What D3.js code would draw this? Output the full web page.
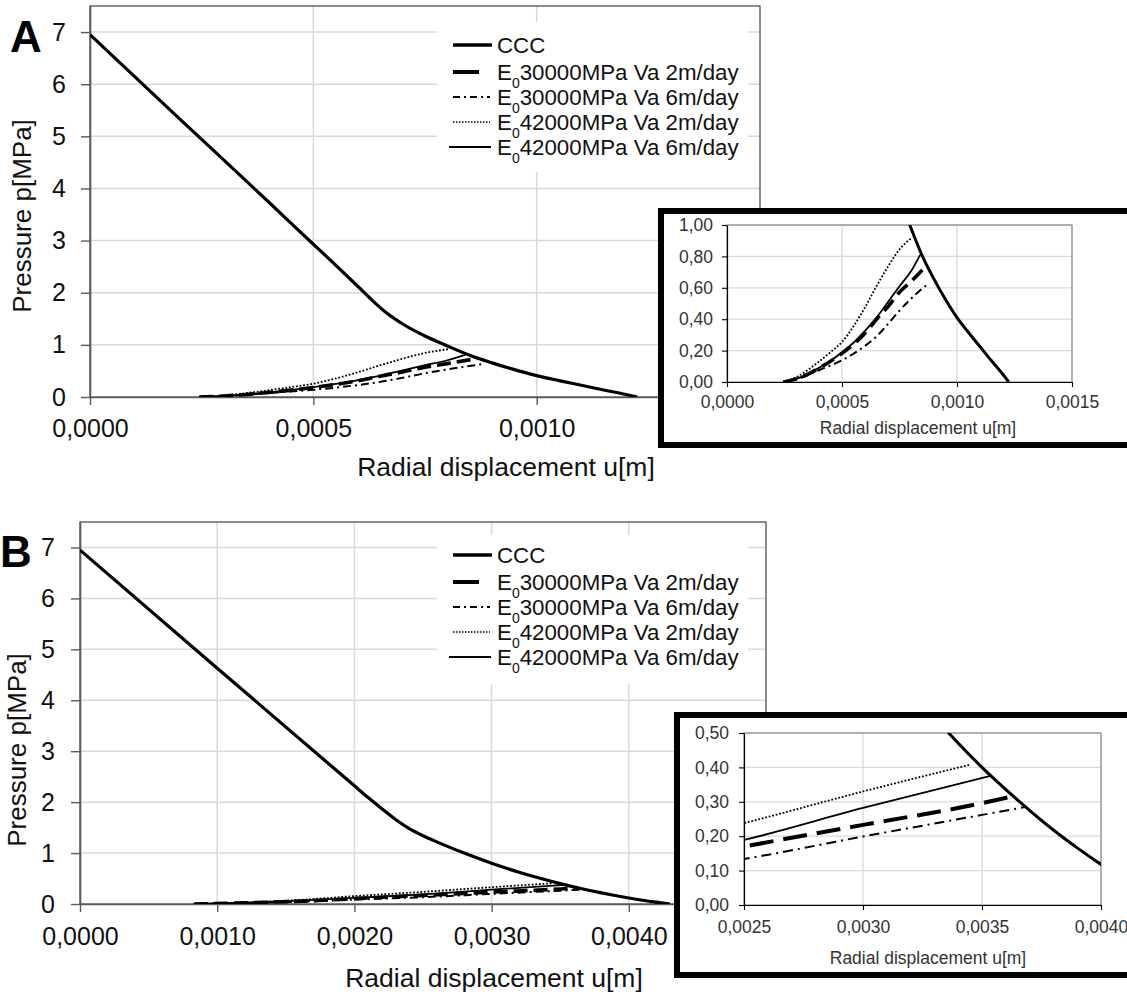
<!DOCTYPE html>
<html><head><meta charset="utf-8">
<script src="https://cdn.jsdelivr.net/npm/d3@7"></script>
<style>
html,body{margin:0;padding:0;background:#fff;}
svg{display:block;font-family:"Liberation Sans",Arial,sans-serif;}
</style></head><body>
<svg id="chart" width="1127" height="996"></svg>
<script>
// ---------------- DATA ----------------
const seriesNames = ["CCC", "30000MPa Va 2m/day", "30000MPa Va 6m/day", "42000MPa Va 2m/day", "42000MPa Va 6m/day"];
const mainYTicks = [0, 1, 2, 3, 4, 5, 6, 7];
const xTicksA = [0, 0.0005, 0.0010, 0.0015];
const xLabelsA = [0, 0.0005, 0.0010];            // 0,0015 is hidden behind the inset
const xTicksB = [0, 0.0010, 0.0020, 0.0030, 0.0040, 0.0050];
const xLabelsB = [0, 0.0010, 0.0020, 0.0030, 0.0040]; // 0,0050 is hidden behind the inset
const insetXTicksA = [0, 0.0005, 0.0010, 0.0015];
const insetYTicksA = [0, 0.2, 0.4, 0.6, 0.8, 1.0];
const insetXTicksB = [0.0025, 0.0030, 0.0035, 0.0040];
const insetYTicksB = [0, 0.1, 0.2, 0.3, 0.4, 0.5];

// Panel A  [u (m), p (MPa)]
const cccA = [[0,6.95],[0.0002,5.34],[0.0004,3.74],[0.0005,2.93],[0.00055,2.53],[0.0006,2.12],[0.00063,1.87],[0.00066,1.64],[0.0007,1.40],[0.00075,1.17],[0.0008,0.98],[0.00085,0.80],[0.0009,0.655],[0.00095,0.525],[0.001,0.41],[0.00105,0.315],[0.0011,0.225],[0.00115,0.135],[0.0012,0.048],[0.001225,0]];
const e30k2A = [[0.000245,0],[0.0003,0.02],[0.00035,0.048],[0.0004,0.088],[0.00045,0.132],[0.0005,0.182],[0.00055,0.24],[0.0006,0.31],[0.00065,0.40],[0.0007,0.48],[0.00075,0.572],[0.0008,0.64],[0.00087,0.745]];
const e30k6A = [[0.000245,0],[0.0003,0.015],[0.00035,0.042],[0.0004,0.075],[0.00045,0.105],[0.0005,0.138],[0.00055,0.18],[0.0006,0.23],[0.00065,0.29],[0.0007,0.37],[0.00075,0.455],[0.0008,0.53],[0.000878,0.63]];
const e42k2A = [[0.000245,0],[0.0003,0.03],[0.00035,0.075],[0.0004,0.13],[0.00045,0.19],[0.0005,0.255],[0.00055,0.355],[0.0006,0.475],[0.00065,0.61],[0.0007,0.735],[0.00075,0.845],[0.000805,0.92]];
const e42k6A = [[0.000245,0],[0.0003,0.02],[0.00035,0.05],[0.0004,0.09],[0.00045,0.135],[0.0005,0.19],[0.00055,0.25],[0.0006,0.325],[0.00065,0.41],[0.0007,0.51],[0.00075,0.61],[0.0008,0.705],[0.00084,0.81]];

// Panel B
const cccB = [[0,6.95],[0.001,4.63],[0.002,2.32],[0.0021,2.09],[0.0022,1.87],[0.0023,1.66],[0.0024,1.48],[0.0025,1.34],[0.0026,1.22],[0.0028,1.0],[0.003,0.80],[0.0032,0.625],[0.00336,0.5],[0.0035,0.40],[0.00365,0.305],[0.0038,0.218],[0.0039,0.166],[0.004,0.118],[0.0041,0.074],[0.0042,0.036],[0.0043,0]];
const e30k2B = [[0.00083,0],[0.0012,0.022],[0.0016,0.055],[0.002,0.105],[0.0025,0.17],[0.003,0.233],[0.0035,0.296],[0.00363,0.316]];
const e30k6B = [[0.00083,0],[0.0012,0.018],[0.0016,0.045],[0.002,0.085],[0.0025,0.134],[0.003,0.199],[0.0035,0.262],[0.00369,0.286]];
const e42k2B = [[0.00083,0],[0.0012,0.03],[0.0016,0.08],[0.002,0.155],[0.0025,0.238],[0.003,0.33],[0.00345,0.408]];
const e42k6B = [[0.00083,0],[0.0012,0.025],[0.0016,0.065],[0.002,0.12],[0.0025,0.189],[0.003,0.282],[0.00354,0.376]];

// ---------------- DRAW ----------------
const svg = d3.select("#chart");
const FONT = '"Liberation Sans", Arial, sans-serif';
const comma = f => (v => d3.format(f)(v).replace(".", ","));

const mainStyles = [
  {w: 3.2, dash: null},
  {w: 3.6, dash: "14,6"},
  {w: 2.0, dash: "8,4,2,4"},
  {w: 1.8, dash: "1.8,1.8"},
  {w: 1.8, dash: null}
];
const legendStyles = [
  {w: 3.4, dash: null, x1: 453, x2: 492},
  {w: 4.0, dash: null, x1: 453, x2: 479},
  {w: 2.0, dash: "7,4,2,4", x1: 453, x2: 490},
  {w: 1.5, dash: "1.5,1.5", x1: 453, x2: 490},
  {w: 2.0, dash: null, x1: 449, x2: 491}
];

function drawMain(cfg) {
  const g = svg.append("g");
  const x = d3.scaleLinear().domain(cfg.xDomain).range([cfg.left, cfg.right]);
  const y = d3.scaleLinear().domain([0, 7.5]).range([cfg.bottom, cfg.top]);

  g.selectAll(".vg").data(cfg.xTicks.filter(d => d > 0 && d < cfg.xDomain[1])).join("line")
    .attr("x1", d => x(d)).attr("x2", d => x(d)).attr("y1", cfg.top).attr("y2", cfg.bottom)
    .attr("stroke", "#d9d9d9").attr("stroke-width", 1.5);
  g.selectAll(".hg").data(mainYTicks.filter(d => d > 0)).join("line")
    .attr("x1", cfg.left).attr("x2", cfg.right).attr("y1", d => y(d)).attr("y2", d => y(d))
    .attr("stroke", "#d9d9d9").attr("stroke-width", 1.5);

  g.append("rect").attr("x", cfg.left).attr("y", cfg.top)
    .attr("width", cfg.right - cfg.left).attr("height", cfg.bottom - cfg.top)
    .attr("fill", "none").attr("stroke", "#404040").attr("stroke-width", 1.2);

  g.append("rect").attr("x", 437).attr("y", cfg.legTop)
    .attr("width", 311).attr("height", cfg.legBottom - cfg.legTop).attr("fill", "#fff");

  const xAxis = d3.axisBottom(x).tickValues(cfg.xTicks)
    .tickFormat(v => cfg.xLabels.includes(v) ? comma(".4f")(v) : null)
    .tickSize(8).tickPadding(cfg.xPad).tickSizeOuter(0);
  const yAxis = d3.axisLeft(y).tickValues(mainYTicks).tickFormat(d3.format("d"))
    .tickSize(9).tickPadding(cfg.yPad).tickSizeOuter(0);
  const gx = g.append("g").attr("transform", `translate(0,${cfg.bottom})`).call(xAxis);
  const gy = g.append("g").attr("transform", `translate(${cfg.left},0)`).call(yAxis);
  gx.selectAll(".tick text").filter(function () { return !this.textContent; }).remove();
  [gx, gy].forEach(a => {
    a.select(".domain").attr("stroke", "#595959").attr("stroke-width", 1.6);
    a.selectAll(".tick line").attr("stroke", "#595959").attr("stroke-width", 1.4);
    a.selectAll(".tick text").attr("font-family", FONT).attr("font-size", 25).attr("fill", "#111");
  });

  const clipId = "clip" + cfg.id;
  svg.append("clipPath").attr("id", clipId).append("rect")
    .attr("x", cfg.left).attr("y", cfg.top - 2).attr("width", cfg.right - cfg.left).attr("height", cfg.bottom - cfg.top + 2);
  const line = d3.line().x(d => x(d[0])).y(d => y(d[1])).curve(d3.curveMonotoneX);
  const cg = g.append("g").attr("clip-path", `url(#${clipId})`);
  cfg.series.forEach((s, i) => {
    cg.append("path").datum(s).attr("d", line).attr("fill", "none")
      .attr("stroke", "#000").attr("stroke-width", mainStyles[i].w)
      .attr("stroke-dasharray", mainStyles[i].dash)
      .attr("stroke-linejoin", "round");
  });

  seriesNames.forEach((name, i) => {
    const by = cfg.legBase[i];
    const ls = legendStyles[i];
    g.append("line").attr("x1", ls.x1).attr("x2", ls.x2).attr("y1", by - 8).attr("y2", by - 8)
      .attr("stroke", "#000").attr("stroke-width", ls.w).attr("stroke-dasharray", ls.dash);
    const t = g.append("text").attr("x", 497).attr("y", by)
      .attr("font-family", FONT).attr("font-size", 22.3).attr("fill", "#111");
    if (i === 0) {
      t.text(name);
    } else {
      t.append("tspan").text("E");
      t.append("tspan").attr("font-size", 14).attr("dy", 8).text("0");
      t.append("tspan").attr("dy", -8).text(name);
    }
  });

  g.append("text").attr("x", cfg.xTitle[0]).attr("y", cfg.xTitle[1]).attr("text-anchor", "middle")
    .attr("font-family", FONT).attr("font-size", 26.5).attr("fill", "#111").text("Radial displacement u[m]");
  g.append("text").attr("transform", `translate(${cfg.yTitle[0]},${cfg.yTitle[1]}) rotate(-90)`)
    .attr("text-anchor", "middle").attr("font-family", FONT).attr("font-size", 26).attr("fill", "#111")
    .text("Pressure p[MPa]");
  g.append("text").attr("x", cfg.letter[0]).attr("y", cfg.letter[1])
    .attr("font-family", FONT).attr("font-weight", "bold").attr("font-size", 44).attr("fill", "#000")
    .text(cfg.id);
}

const insetStyles = {
  A: [{w: 3.0, dash: null}, {w: 3.6, dash: "14,7"}, {w: 2.0, dash: "8,4,2,4"}, {w: 1.8, dash: "1.8,1.8"}, {w: 1.8, dash: null}],
  B: [{w: 3.0, dash: null}, {w: 4.0, dash: "24,10"}, {w: 2.0, dash: "10,5,2,5"}, {w: 1.8, dash: "1.8,1.8"}, {w: 1.8, dash: null}]
};

function drawInset(cfg) {
  const g = svg.append("g");
  g.append("rect").attr("x", cfg.box[0]).attr("y", cfg.box[1]).attr("width", cfg.box[2]).attr("height", cfg.box[3])
    .attr("fill", "#fff").attr("stroke", "#000").attr("stroke-width", 6);
  const x = d3.scaleLinear().domain(cfg.xDomain).range([cfg.left, cfg.right]);
  const y = d3.scaleLinear().domain(cfg.yDomain).range([cfg.bottom, cfg.top]);

  g.selectAll(".vg").data(cfg.xTicks.slice(1)).join("line")
    .attr("x1", d => x(d)).attr("x2", d => x(d)).attr("y1", cfg.top).attr("y2", cfg.bottom)
    .attr("stroke", "#d9d9d9").attr("stroke-width", 1.3);
  g.selectAll(".hg").data(cfg.yTicks.slice(1)).join("line")
    .attr("x1", cfg.left).attr("x2", cfg.right).attr("y1", d => y(d)).attr("y2", d => y(d))
    .attr("stroke", "#d9d9d9").attr("stroke-width", 1.3);
  g.append("rect").attr("x", cfg.left).attr("y", cfg.top).attr("width", cfg.right - cfg.left).attr("height", cfg.bottom - cfg.top)
    .attr("fill", "none").attr("stroke", "#7a7a7a").attr("stroke-width", 1);

  const xAxis = d3.axisBottom(x).tickValues(cfg.xTicks).tickFormat(comma(".4f")).tickSize(5).tickPadding(cfg.xPad).tickSizeOuter(0);
  const yAxis = d3.axisLeft(y).tickValues(cfg.yTicks).tickFormat(comma(".2f")).tickSize(5).tickPadding(cfg.yPad).tickSizeOuter(0);
  const gx = g.append("g").attr("transform", `translate(0,${cfg.bottom})`).call(xAxis);
  const gy = g.append("g").attr("transform", `translate(${cfg.left},0)`).call(yAxis);
  [gx, gy].forEach(a => {
    a.select(".domain").attr("stroke", "#000").attr("stroke-width", 1.2);
    a.selectAll(".tick line").attr("stroke", "#000").attr("stroke-width", 1.1);
    a.selectAll(".tick text").attr("font-family", FONT).attr("font-size", 17.5).attr("fill", "#333");
  });

  const clipId = "iclip" + cfg.id;
  svg.append("clipPath").attr("id", clipId).append("rect")
    .attr("x", cfg.left).attr("y", cfg.top).attr("width", cfg.right - cfg.left).attr("height", cfg.bottom - cfg.top);
  const line = d3.line().x(d => x(d[0])).y(d => y(d[1])).curve(d3.curveMonotoneX);
  const cg = g.append("g").attr("clip-path", `url(#${clipId})`);
  const st = insetStyles[cfg.id];
  cfg.series.forEach((s, i) => {
    cg.append("path").datum(s).attr("d", line).attr("fill", "none")
      .attr("stroke", "#000").attr("stroke-width", st[i].w).attr("stroke-dasharray", st[i].dash)
      .attr("stroke-linejoin", "round");
  });

  g.append("text").attr("x", cfg.title[0]).attr("y", cfg.title[1]).attr("text-anchor", "middle")
    .attr("font-family", FONT).attr("font-size", 17.5).attr("fill", "#333").text("Radial displacement u[m]");
}

drawMain({
  id: "A", xDomain: [0, 0.0015], xTicks: xTicksA, xLabels: xLabelsA,
  left: 90, right: 760, top: 6, bottom: 397, xPad: 14, yPad: 15,
  series: [cccA, e30k2A, e30k6A, e42k2A, e42k6A],
  legTop: 22, legBottom: 172, legBase: [53, 80, 105, 130, 155],
  xTitle: [506, 476], yTitle: [31, 216], letter: [10, 52]
});
drawInset({
  id: "A", box: [661, 211, 480, 234],
  xDomain: [0, 0.0015], yDomain: [0, 1.0], xTicks: insetXTicksA, yTicks: insetYTicksA,
  left: 727, right: 1072, top: 225, bottom: 382, xPad: 9, yPad: 9,
  series: [cccA, e30k2A, e30k6A, e42k2A, e42k6A],
  title: [918, 434]
});
drawMain({
  id: "B", xDomain: [0, 0.005], xTicks: xTicksB, xLabels: xLabelsB,
  left: 80, right: 766, top: 522, bottom: 904, xPad: 15, yPad: 16,
  series: [cccB, e30k2B, e30k6B, e42k2B, e42k6B],
  legTop: 535, legBottom: 684, legBase: [563, 590, 615, 640, 665],
  xTitle: [494, 987], yTitle: [26, 750], letter: [0, 567]
});
drawInset({
  id: "B", box: [677, 715, 470, 260],
  xDomain: [0.0025, 0.004], yDomain: [0, 0.5], xTicks: insetXTicksB, yTicks: insetYTicksB,
  left: 744, right: 1101, top: 733, bottom: 905, xPad: 11, yPad: 10,
  series: [cccB, e30k2B, e30k6B, e42k2B, e42k6B],
  title: [928, 964]
});
</script>
</body></html>
